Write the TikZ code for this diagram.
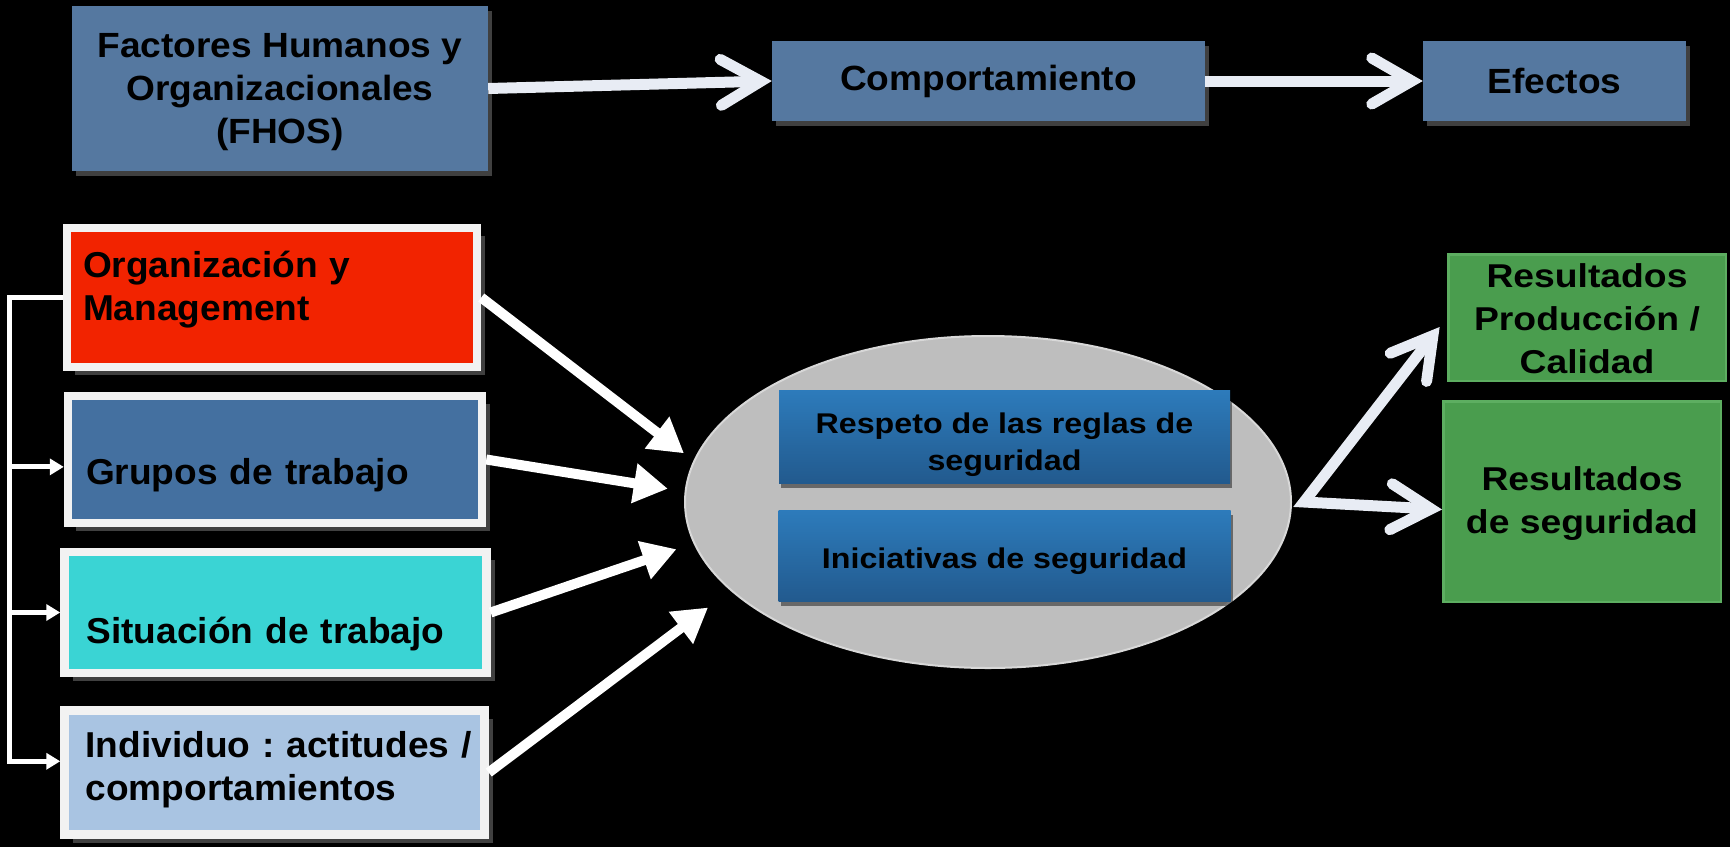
\documentclass[tikz,border=0pt]{standalone}
\usepackage{fontspec}
\setmainfont{Liberation Sans}
\newfontfamily\topfont[FakeStretch=1.06]{Liberation Sans}
\newfontfamily\boxfont[FakeStretch=1.03]{Liberation Sans}
\newfontfamily\widefont[FakeStretch=1.13]{Liberation Sans}
\usetikzlibrary{arrows.meta,shapes.geometric,positioning,shadows}
\definecolor{Topblue}{HTML}{5578A0}
\definecolor{Shade}{HTML}{404040}
\definecolor{Rim}{HTML}{F2F2F2}
\definecolor{Orgred}{HTML}{F22300}
\definecolor{Grpblue}{HTML}{4470A0}
\definecolor{Sitcyan}{HTML}{3AD4D4}
\definecolor{Indblue}{HTML}{A9C4E2}
\definecolor{Ellgray}{HTML}{BEBEBE}
\definecolor{Ellrim}{HTML}{D8D8D8}
\definecolor{Inblue}{HTML}{2D7BBB}
\definecolor{Inbluedark}{HTML}{225A8E}
\definecolor{Green}{HTML}{4A9D4E}
\definecolor{Greenrim}{HTML}{5DAE61}
\definecolor{Arrowwhite}{HTML}{E8ECF4}
\pgfdeclareradialshading{ellshade}{\pgfpoint{0bp}{0bp}}{color(0bp)=(Ellgray);color(38bp)=(Ellgray);color(46bp)=(Ellgray!90!black);color(49bp)=(Ellgray!78!black);color(50bp)=(Ellrim)}
\tikzset{
every node/.style={inner sep=0pt},
style1/.style={rectangle,fill=Topblue,align=center,font=\topfont\bfseries\fontsize{35}{43}\selectfont,drop shadow={shadow xshift=4pt,shadow yshift=-5pt,fill=Shade,opacity=1}},
style2/.style={rectangle,draw=Rim,line width=8.5pt,align=left,text width=378pt,font=\boxfont\bfseries\frenchspacing\fontsize{36}{43}\selectfont,drop shadow={shadow xshift=8pt,shadow yshift=-8pt,fill=Shade,opacity=1}},
style3/.style={rectangle,top color=Inblue,bottom color=Inbluedark,align=center,font=\widefont\bfseries\fontsize{28.5}{37}\selectfont,drop shadow={shadow xshift=2pt,shadow yshift=-5pt,fill=black,opacity=.45}},
style4/.style={rectangle,fill=Green,draw=Greenrim,line width=2.5pt,align=center,font=\widefont\bfseries\fontsize{33}{43}\selectfont},
bigarrow/.style={draw=Arrowwhite,line width=11pt,-{Straight Barb[length=40pt,width=46pt,line cap=round]}},
midarrow/.style={draw=white,line width=10pt,-{Triangle[length=34pt,width=38pt]}},
bracket/.style={draw=white,line width=5pt,-{Triangle[length=14pt,width=16pt]}}
}

\begin{document}
\begin{tikzpicture}[x=1pt,y=-1pt]
\useasboundingbox (0,0) rectangle (1730,847);
\fill[black] (0,0) rectangle (1730,847);

\node[style1,minimum width=416pt,minimum height=165pt,text height=110pt,text depth=0pt] (f1) at (280,88.5) {Factores Humanos y\\Organizacionales\\(FHOS)};
\node[style1,minimum width=433pt,minimum height=80pt] (f2) at (988.5,81) {Comportamiento};
\node[style1,minimum width=263pt,minimum height=80pt] (f3) at (1554.5,81) {Efectos};

\node[style2,fill=Orgred,minimum width=410pt,minimum height=139pt,text height=0pt,text depth=41pt] (o1) at (272,297.5) {Organización y\\Management};
\node[style2,fill=Grpblue,minimum width=414pt,minimum height=127pt,text height=49pt,text depth=0pt] (o2) at (275,459.5) {Grupos de trabajo};
\node[style2,fill=Sitcyan,minimum width=422pt,minimum height=121pt,text height=61pt,text depth=0pt] (o3) at (275.5,612.5) {Situación de trabajo};
\node[style2,fill=Indblue,minimum width=420pt,minimum height=124pt,text height=0pt,text depth=30pt] (o4) at (274.5,772.5) {\mbox{Individuo : actitudes /}\\comportamientos};

\node[ellipse,minimum width=606pt,minimum height=332pt,shading=ellshade,shade,draw=Ellrim,line width=2pt] (e) at (988,502) {};
\node[style3,minimum width=451pt,minimum height=93pt,text height=67pt,text depth=0pt] (s1) at (1004.5,436.5) {Respeto de las reglas de\\seguridad};
\node[style3,minimum width=452pt,minimum height=91pt,text height=25pt,text depth=0pt,below=27pt of s1] (s2) {Iniciativas de seguridad};

\node[style4,minimum width=277.5pt,minimum height=126.5pt,text height=111pt,text depth=0pt] (r1) at (1587,317.5) {Resultados\\Producción /\\Calidad};
\node[style4,minimum width=277.5pt,minimum height=200.5pt,text height=63pt,text depth=0pt] (r2) at (1582,501.5) {Resultados\\de seguridad};

\draw[bigarrow] (f1.east) -- (f2.west);
\draw[bigarrow] (f2.east) -- (f3.west);

\foreach \b/\a/\s in {o1/172/12,o2/178/17,o3/188/18,o4/199/28}
  \draw[midarrow,shorten >=\s pt] (\b.east) -- (e.\a);

\draw[bigarrow,{Straight Barb[length=40pt,width=46pt,line cap=round]}-{Straight Barb[length=40pt,width=46pt,line cap=round]},shorten <=12pt] (r1.west) -- ([xshift=12pt]e.east) -- ([yshift=-8pt]r2.west);

\draw[bracket] (o1.west) -- ++(-53,0) coordinate (b) |- (o4.177);
\foreach \b/\a in {o2/182,o3/180}
  \draw[bracket] (b |- \b.\a) -- (\b.\a);
\end{tikzpicture}
\end{document}
